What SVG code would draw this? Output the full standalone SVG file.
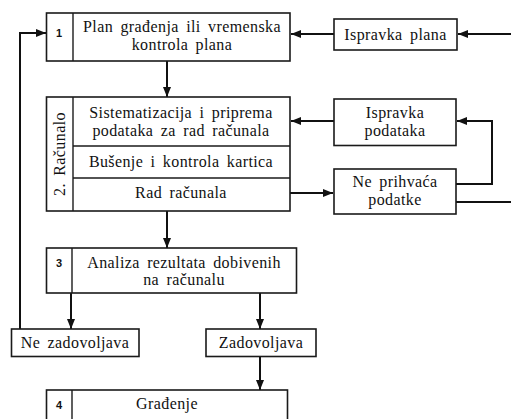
<svg xmlns="http://www.w3.org/2000/svg" width="511" height="419" viewBox="0 0 511 419">
  <style>
    .box { fill: #fff; stroke: #1a1a1a; stroke-width: 1.6; }
    .div { stroke: #1a1a1a; stroke-width: 1.4; fill: none; }
    .t { font-family: "Liberation Serif", "Times New Roman", serif; font-size: 16px; letter-spacing: 0.4px; word-spacing: 3px; fill: #111; text-anchor: middle; }
    .n { font-family: "Liberation Sans", Arial, sans-serif; font-size: 11px; font-weight: bold; fill: #111; text-anchor: middle; }
    .c { stroke: #111; stroke-width: 2; fill: none; }
  </style>
  <defs>
    <marker id="ah" viewBox="0 0 10 10" refX="10" refY="5" markerWidth="5" markerHeight="5" orient="auto" markerUnits="strokeWidth">
      <path d="M0,1 L10,5 L0,9 z" fill="#111"/>
    </marker>
  </defs>
  <rect width="511" height="419" fill="#fff"/>

  <!-- connectors -->
  <g id="connectors">
    <path class="c" d="M511,34 L458,34" marker-end="url(#ah)"/>
    <path class="c" d="M334,34 L291,34" marker-end="url(#ah)"/>
    <path class="c" d="M167,61 L167,97" marker-end="url(#ah)"/>
    <path class="c" d="M20,329 L20,33 L46,33" marker-end="url(#ah)"/>
    <path class="c" d="M334,121 L291,121" marker-end="url(#ah)"/>
    <path class="c" d="M290,193 L333,193" marker-end="url(#ah)"/>
    <path class="c" d="M456,184 L492,184 L492,121 L457,121" marker-end="url(#ah)"/>
    <path class="c" d="M456,202 L511,202"/>
    <path class="c" d="M167,211 L167,248" marker-end="url(#ah)"/>
    <path class="c" d="M71,293 L71,329" marker-end="url(#ah)"/>
    <path class="c" d="M260,293 L260,329" marker-end="url(#ah)"/>
    <path class="c" d="M260,357 L260,390" marker-end="url(#ah)"/>
  </g>

  <!-- 1: plan -->
  <g id="node-plan">
    <rect class="box" x="46.5" y="13" width="243.5" height="48"/>
    <line class="div" x1="73" y1="13" x2="73" y2="61"/>
    <text class="n" x="59" y="37">1</text>
    <text class="t" x="182" y="32">Plan građenja ili vremenska</text>
    <text class="t" x="182" y="50">kontrola plana</text>
  </g>

  <g id="node-ispravka-plana">
    <rect class="box" x="334" y="19" width="123" height="31"/>
    <text class="t" x="395.5" y="39.5">Ispravka plana</text>
  </g>

  <!-- 2: computer -->
  <g id="node-racunalo">
    <rect class="box" x="46.5" y="97" width="243.5" height="114"/>
    <line class="div" x1="73" y1="97" x2="73" y2="211"/>
    <line class="div" x1="73" y1="146" x2="290" y2="146"/>
    <line class="div" x1="73" y1="178" x2="290" y2="178"/>
    <text class="t" x="60" y="154" font-size="14" transform="rotate(-90 60 154)" dy="5">2. Računalo</text>
    <text class="t" x="181" y="117.5">Sistematizacija i priprema</text>
    <text class="t" x="181" y="136">podataka za rad računala</text>
    <text class="t" x="181" y="167">Bušenje i kontrola kartica</text>
    <text class="t" x="181" y="198">Rad računala</text>
  </g>

  <g id="node-ispravka-podataka">
    <rect class="box" x="334" y="99" width="122" height="46.5"/>
    <text class="t" x="395" y="118">Ispravka</text>
    <text class="t" x="395" y="136">podataka</text>
  </g>

  <g id="node-ne-prihvaca">
    <rect class="box" x="334" y="169" width="122" height="45"/>
    <text class="t" x="395" y="186.5">Ne prihvaća</text>
    <text class="t" x="395" y="205">podatke</text>
  </g>

  <!-- 3: analysis -->
  <g id="node-analiza">
    <rect class="box" x="46.5" y="248" width="250" height="45"/>
    <line class="div" x1="72" y1="248" x2="72" y2="293"/>
    <text class="n" x="59" y="267">3</text>
    <text class="t" x="184" y="268">Analiza rezultata dobivenih</text>
    <text class="t" x="184" y="285">na računalu</text>
  </g>

  <g id="node-ne-zadovoljava">
    <rect class="box" x="11.5" y="329" width="127.5" height="27.5"/>
    <text class="t" x="75" y="348">Ne zadovoljava</text>
  </g>

  <g id="node-zadovoljava">
    <rect class="box" x="206" y="329" width="110" height="27.5"/>
    <text class="t" x="261" y="348">Zadovoljava</text>
  </g>

  <!-- 4: construction -->
  <g id="node-gradenje">
    <rect class="box" x="46.5" y="390" width="241" height="40"/>
    <line class="div" x1="72" y1="390" x2="72" y2="419"/>
    <text class="n" x="59" y="409">4</text>
    <text class="t" x="167" y="409">Građenje</text>
  </g>
</svg>
